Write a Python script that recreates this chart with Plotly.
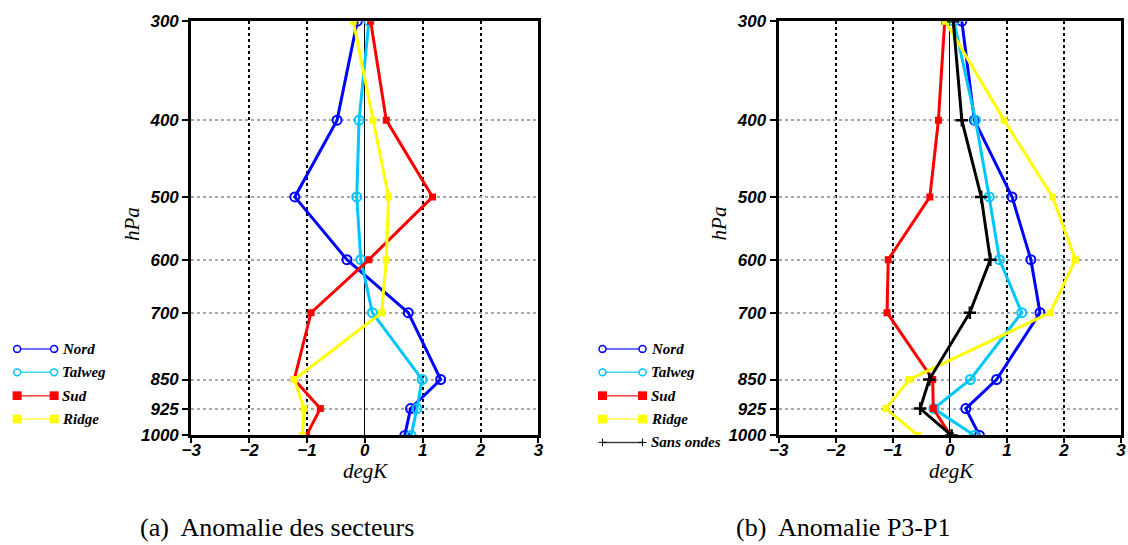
import plotly.graph_objects as go

# ---------------- data ----------------
levels = [300, 400, 500, 600, 700, 850, 925, 1000]
tick_labels = ["300", "400", "500", "600", "700", "850", "925", "1000"]
x_ticks = [-3, -2, -1, 0, 1, 2, 3]

# (a) Anomalie des secteurs
a_nord = [-0.13, -0.48, -1.21, -0.31, 0.75, 1.31, 0.79, 0.69]
a_talweg = [0.07, -0.10, -0.14, -0.07, 0.13, 0.99, 0.90, 0.80]
a_sud = [0.10, 0.37, 1.17, 0.07, -0.93, -1.22, -0.77, -1.01]
a_ridge = [-0.20, 0.14, 0.41, 0.37, 0.29, -1.22, -1.05, -1.08]

# (b) Anomalie P3-P1
b_nord = [0.21, 0.43, 1.09, 1.42, 1.58, 0.82, 0.28, 0.52]
b_talweg = [0.07, 0.45, 0.69, 0.87, 1.26, 0.36, -0.28, 0.43]
b_sud = [-0.09, -0.20, -0.35, -1.08, -1.10, -0.30, -0.29, 0.01]
b_ridge = [-0.08, 0.95, 1.80, 2.20, 1.76, -0.71, -1.12, -0.56]
b_sans = [0.06, 0.21, 0.55, 0.71, 0.35, -0.36, -0.52, 0.03]

series_names = ["Nord", "Talweg", "Sud", "Ridge", "Sans ondes"]

# ---------------- styles ----------------
C_NORD = "#0000ff"
C_TALWEG = "#00c6ff"
C_SUD = "#ff0000"
C_RIDGE = "#ffff00"
C_SANS = "#000000"

styles = {
    "Nord": dict(color=C_NORD, symbol="circle-open", size=9, mlw=2),
    "Talweg": dict(color=C_TALWEG, symbol="circle-open", size=9, mlw=2),
    "Sud": dict(color=C_SUD, symbol="square", size=7, mlw=0),
    "Ridge": dict(color=C_RIDGE, symbol="square", size=7, mlw=0),
    "Sans ondes": dict(color=C_SANS, symbol="cross-thin-open", size=9, mlw=2.5),
}

fig = go.Figure()


def add_series(name, xs, xa, ya):
    s = styles[name]
    fig.add_trace(go.Scatter(
        x=xs, y=levels, mode="lines+markers", name=name, showlegend=False,
        xaxis=xa, yaxis=ya,
        line=dict(color=s["color"], width=3),
        marker=dict(symbol=s["symbol"], size=s["size"], color=s["color"],
                    line=dict(color=s["color"], width=s["mlw"])),
    ))


for nm, xs in zip(series_names[:4], [a_nord, a_talweg, a_sud, a_ridge]):
    add_series(nm, xs, "x", "y")
for nm, xs in zip(series_names, [b_nord, b_talweg, b_sud, b_ridge, b_sans]):
    add_series(nm, xs, "x2", "y2")

W, H = 1128, 545
# map target picture pixels to figure pixels (the photographed page gets a
# small border and is scaled back to the window size)
SX, SY, OFF = (W + 16) / W, (H + 16) / H, 8


def fx(xp):
    return min(max((xp * SX - OFF) / W, 0), 1)


def fy(yp):
    return min(max(1 - (yp * SY - OFF) / H, 0), 1)


tickfont = dict(family="Liberation Sans", size=17, color="black", weight="bold", style="italic")


def xaxis(domain):
    return dict(domain=domain, range=[-3, 3], tickvals=x_ticks,
                ticktext=["\u22123", "\u22122", "\u22121", "0", "1", "2", "3"],
                showline=True, linecolor="black", linewidth=3, mirror=True,
                ticks="outside", ticklen=5, tickwidth=2, tickcolor="black",
                ticklabelstandoff=-8,
                showgrid=True, gridcolor="black", griddash="dot", gridwidth=1.5,
                zeroline=True, zerolinecolor="black", zerolinewidth=1.2,
                tickfont=tickfont, fixedrange=True)


def yaxis(anchor):
    return dict(domain=[fy(437), fy(20)], anchor=anchor, type="log",
                range=[3.0, 2.4771212547], tickvals=levels, ticktext=tick_labels,
                showline=True, linecolor="black", linewidth=3, mirror=True,
                ticks="outside", ticklen=6, tickwidth=2, tickcolor="black",
                showgrid=True, gridcolor="#a8a8a8", griddash="dot", gridwidth=1.5,
                zeroline=False, tickfont=tickfont, fixedrange=True)


fig.update_layout(
    width=W, height=H,
    margin=dict(l=0, r=0, t=0, b=0),
    paper_bgcolor="white", plot_bgcolor="white",
    showlegend=False,
    xaxis=dict(xaxis([fx(189), fx(536)]), anchor="y"),
    yaxis=yaxis("x"),
    xaxis2=dict(xaxis([fx(776), 1126 / W]), anchor="y2"),
    yaxis2=yaxis("x2"),
)

serif_it = dict(family="Liberation Serif", size=21, color="black", style="italic")
cap_font = dict(family="Liberation Serif", size=26, color="black")
annotations = [
    dict(text="hPa", x=fx(130), y=fy(224), textangle=-90, font=serif_it),
    dict(text="hPa", x=fx(716), y=fy(224), textangle=-90, font=serif_it),
    dict(text="degK", x=fx(363), y=fy(473), font=serif_it),
    dict(text="degK", x=fx(949), y=fy(473), font=serif_it),
    dict(text="(a)  Anomalie des secteurs", x=fx(275), y=fy(530), font=cap_font),
    dict(text="(b)  Anomalie P3-P1", x=fx(841), y=fy(530), font=cap_font),
]

# ---------------- legends (drawn glyphs) ----------------
shapes = []
leg_font = dict(family="Liberation Serif", size=15, color="black", style="italic", weight="bold")


def legend_item(name, x0, x1, ypix):
    s = styles[name]
    col = s["color"]
    yp = fy(ypix)
    shapes.append(dict(type="line", xref="paper", yref="paper", x0=fx(x0), x1=fx(x1),
                       y0=yp, y1=yp, line=dict(color=col, width=1.5), opacity=0.75))
    for xc in (x0, x1):
        if s["symbol"] == "circle-open":
            r = 3.5
            shapes.append(dict(type="circle", xref="paper", yref="paper",
                               x0=fx(xc - r), x1=fx(xc + r),
                               y0=yp - r / H, y1=yp + r / H,
                               line=dict(color=col, width=1.5), fillcolor="white"))
        elif s["symbol"] == "square":
            r = 4.5
            shapes.append(dict(type="rect", xref="paper", yref="paper",
                               x0=fx(xc - r), x1=fx(xc + r),
                               y0=yp - r / H, y1=yp + r / H,
                               line=dict(width=0), fillcolor=col))
        else:
            r = 4
            shapes.append(dict(type="line", xref="paper", yref="paper",
                               x0=fx(xc), x1=fx(xc), y0=yp - r / H, y1=yp + r / H,
                               line=dict(color=col, width=1)))
            shapes.append(dict(type="line", xref="paper", yref="paper",
                               x0=fx(xc - r), x1=fx(xc + r), y0=yp, y1=yp,
                               line=dict(color=col, width=1)))
    annotations.append(dict(text=name, x=fx(x1 + 6), y=yp, xanchor="left",
                            font=leg_font))


for i, nm in enumerate(series_names[:4]):
    legend_item(nm, 15, 52, 350 + i * 23.5)
for i, nm in enumerate(series_names):
    legend_item(nm, 600, 640, 350 + i * 23.5)

for a in annotations:
    a.setdefault("xref", "paper")
    a.setdefault("yref", "paper")
    a.setdefault("showarrow", False)
    a.setdefault("xanchor", "center")
    a.setdefault("yanchor", "middle")

fig.update_layout(annotations=annotations, shapes=shapes)

fig.write_html(
    "out.html",
    config={"displayModeBar": False},
    post_script="document.body.style.margin='0';document.body.style.overflow='hidden';",
)
